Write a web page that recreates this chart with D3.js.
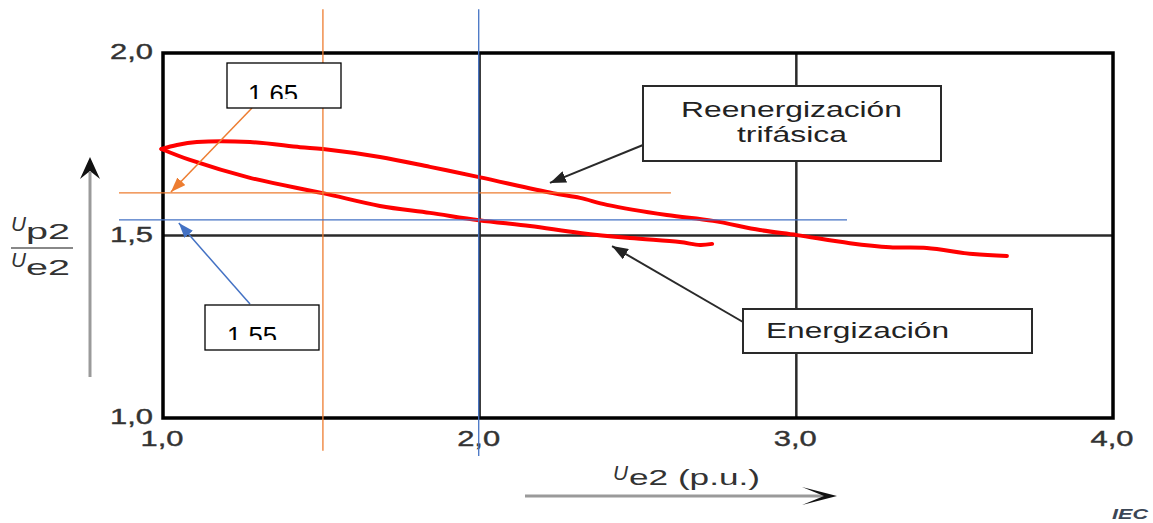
<!DOCTYPE html>
<html>
<head>
<meta charset="utf-8">
<script src="https://cdn.jsdelivr.net/npm/d3@7"></script>
<style>
  body { margin: 0; background: #fff; }
  text { font-family: "Liberation Sans", Arial, sans-serif; }
</style>
</head>
<body>
<div id="chart"></div>
<script>
/* Values */
let xTickValues = [1, 2, 3, 4];
let xTickLabels = ["1,0", "2,0", "3,0", "4,0"];
let yTickValues = [1, 1.5, 2];
let yTickLabels = ["1,0", "1,5", "2,0"];
let gridX = [2, 3];
let gridY = [1.5];

// Reenergización trifásica (upper curve)
let reenergUe = [0.995, 1.044, 1.107, 1.275, 1.433, 1.505, 1.685, 1.843, 1.998, 2.231, 2.317,
                 2.402, 2.591, 2.737, 2.885, 3.002, 3.169, 3.296, 3.412, 3.558, 3.665];
let reenergUp = [1.737, 1.748, 1.756, 1.756, 1.742, 1.737, 1.715, 1.688, 1.660, 1.616, 1.603,
                 1.584, 1.556, 1.540, 1.515, 1.501, 1.479, 1.468, 1.466, 1.449, 1.444];

// Energización (lower curve)
let energUe = [0.995, 1.085, 1.275, 1.505, 1.685, 1.843, 1.998, 2.159, 2.317, 2.475, 2.632, 2.696, 2.734];
let energUp = [1.737, 1.707, 1.658, 1.616, 1.581, 1.562, 1.542, 1.526, 1.507, 1.493, 1.482, 1.474, 1.477];

// hand-drawn reading lines (value, extent)
let orangeV = 1.505, orangeVExtent = [0.91, 2.12];
let orangeH = 1.617, orangeHExtent = [0.861, 2.604];
let blueV = 1.997, blueVExtent = [0.896, 2.12];
let blueH = 1.543, blueHExtent = [0.861, 3.160];

// where the callout arrows point to
let orangeTip = [1.025, 1.619];
let blueTip = [1.05, 1.534];
let reenergTip = [2.222, 1.644];
let energTip = [2.418, 1.471];

/* Layout */
let width = 1153;
let height = 523;
let plot = {left: 163, right: 1113, top: 53, bottom: 418};

let svg = d3.select("#chart")
            .append("svg")
              .attr("width", width)
              .attr("height", height);

svg.append("rect")
     .attr("width", width)
     .attr("height", height)
     .attr("fill", "#fff");

let x = d3.scaleLinear()
          .domain([1, 4])
          .range([plot.left, plot.right]);

let y = d3.scaleLinear()
          .domain([1, 2])
          .range([plot.bottom, plot.top]);

// arrow heads
let defs = svg.append("defs");
function addMarker(id, color, len, wid) {
  defs.append("marker")
        .attr("id", id)
        .attr("viewBox", `0 0 ${len} ${wid}`)
        .attr("refX", len)
        .attr("refY", wid / 2)
        .attr("markerUnits", "userSpaceOnUse")
        .attr("markerWidth", len)
        .attr("markerHeight", wid)
        .attr("orient", "auto")
      .append("path")
        .attr("d", `M0,0L${len},${wid / 2}L0,${wid}Z`)
        .attr("fill", color);
}
addMarker("arrow-orange", "#ED7D31", 15, 11);
addMarker("arrow-blue", "#4472C4", 15, 11);
addMarker("arrow-dark", "#222", 16, 12);

/* Grid lines and frame */
let grid = svg.append("g");

grid.selectAll(".gx")
    .data(gridX)
    .enter()
    .append("line")
      .attr("x1", d => x(d))
      .attr("x2", d => x(d))
      .attr("y1", y(1))
      .attr("y2", y(2))
      .attr("stroke", "#2a2a2a")
      .attr("stroke-width", 2.5);

grid.selectAll(".gy")
    .data(gridY)
    .enter()
    .append("line")
      .attr("x1", x(1))
      .attr("x2", x(4))
      .attr("y1", d => y(d))
      .attr("y2", d => y(d))
      .attr("stroke", "#2a2a2a")
      .attr("stroke-width", 2.5);

svg.append("rect")
     .attr("x", x(1))
     .attr("y", y(2))
     .attr("width", x(4) - x(1))
     .attr("height", y(1) - y(2))
     .attr("fill", "none")
     .attr("stroke", "#000")
     .attr("stroke-width", 3.5);

/* Tick labels */
svg.append("g")
   .selectAll("text")
   .data(xTickValues)
   .enter()
   .append("text")
     .attr("x", d => x(d) - 1)
     .attr("y", 446)
     .attr("text-anchor", "middle")
     .attr("font-size", 22)
     .attr("fill", "#333")
     .attr("stroke", "#333")
     .attr("stroke-width", 0.4)
     .attr("textLength", 43)
     .attr("lengthAdjust", "spacingAndGlyphs")
     .text((d, i) => xTickLabels[i]);

svg.append("g")
   .selectAll("text")
   .data(yTickValues)
   .enter()
   .append("text")
     .attr("x", 153)
     .attr("y", d => y(d) + 6)
     .attr("text-anchor", "end")
     .attr("font-size", 22)
     .attr("fill", "#333")
     .attr("stroke", "#333")
     .attr("stroke-width", 0.4)
     .attr("textLength", 43)
     .attr("lengthAdjust", "spacingAndGlyphs")
     .text((d, i) => yTickLabels[i]);

/* Curves */
let line = d3.line()
             .x(d => x(d[0]))
             .y(d => y(d[1]))
             .curve(d3.curveCatmullRom);

let curves = [d3.zip(reenergUe, reenergUp), d3.zip(energUe, energUp)];

svg.append("g")
   .selectAll("path")
   .data(curves)
   .enter()
   .append("path")
     .attr("d", line)
     .attr("fill", "none")
     .attr("stroke", "#ff0000")
     .attr("stroke-width", 4)
     .attr("stroke-linecap", "round")
     .attr("stroke-linejoin", "round");

/* Reading lines */
let reading = svg.append("g").attr("stroke-width", 1.3);

reading.append("line")
  .attr("x1", x(orangeV)).attr("x2", x(orangeV))
  .attr("y1", y(orangeVExtent[1])).attr("y2", y(orangeVExtent[0]))
  .attr("stroke", "#ED7D31");
reading.append("line")
  .attr("x1", x(orangeHExtent[0])).attr("x2", x(orangeHExtent[1]))
  .attr("y1", y(orangeH)).attr("y2", y(orangeH))
  .attr("stroke", "#ED7D31");
reading.append("line")
  .attr("x1", x(blueV)).attr("x2", x(blueV))
  .attr("y1", y(blueVExtent[1])).attr("y2", y(blueVExtent[0]))
  .attr("stroke", "#4472C4");
reading.append("line")
  .attr("x1", x(blueHExtent[0])).attr("x2", x(blueHExtent[1]))
  .attr("y1", y(blueH)).attr("y2", y(blueH))
  .attr("stroke", "#4472C4");

/* Value boxes (text cut at the bottom like in the figure) */
function valueBox(id, bx, by, bw, bh, label, tx, clipH, tip, color, from) {
  defs.append("clipPath")
        .attr("id", id)
      .append("rect")
        .attr("x", bx)
        .attr("y", by)
        .attr("width", bw)
        .attr("height", clipH);

  svg.append("line")
       .attr("x1", from[0])
       .attr("y1", from[1])
       .attr("x2", x(tip[0]))
       .attr("y2", y(tip[1]))
       .attr("stroke", color)
       .attr("stroke-width", 1.5)
       .attr("marker-end", `url(#arrow-${id.split("-")[1]})`);

  svg.append("rect")
       .attr("x", bx)
       .attr("y", by)
       .attr("width", bw)
       .attr("height", bh)
       .attr("fill", "#fff")
       .attr("stroke", "#000")
       .attr("stroke-width", 1.3);

  svg.append("text")
       .attr("clip-path", `url(#${id})`)
       .attr("x", tx)
       .attr("y", by + bh - 5)
       .attr("font-family", "Carlito, 'Open Sans', sans-serif")
       .attr("font-size", 25)
       .attr("fill", "#000")
       .attr("textLength", 50)
       .attr("lengthAdjust", "spacingAndGlyphs")
       .text(label);
}
valueBox("clip-orange", 227, 63, 114, 45, "1.65", 248, 36, orangeTip, "#ED7D31", [252, 108]);
valueBox("clip-blue", 205, 305, 114, 45, "1.55", 227, 35, blueTip, "#4472C4", [250, 304]);

/* Callouts */
function callout(bx, by, bw, bh, lines, tip, from) {
  svg.append("line")
       .attr("x1", from[0])
       .attr("y1", from[1])
       .attr("x2", x(tip[0]))
       .attr("y2", y(tip[1]))
       .attr("stroke", "#2a2a2a")
       .attr("stroke-width", 2)
       .attr("marker-end", "url(#arrow-dark)");

  svg.append("rect")
       .attr("x", bx)
       .attr("y", by)
       .attr("width", bw)
       .attr("height", bh)
       .attr("fill", "#fff")
       .attr("stroke", "#2a2a2a")
       .attr("stroke-width", 2);

  lines.forEach(l => {
    svg.append("text")
         .attr("x", l.x)
         .attr("y", l.y)
         .attr("text-anchor", l.anchor)
         .attr("font-size", 22)
         .attr("fill", "#222")
         .attr("textLength", l.w)
         .attr("lengthAdjust", "spacingAndGlyphs")
         .text(l.t);
  });
}
callout(643, 86, 298, 75,
        [{t: "Reenergización", x: 791.5, y: 117, w: 221, anchor: "middle"},
         {t: "trifásica", x: 792, y: 142, w: 110, anchor: "middle"}],
        reenergTip, [643, 145]);
callout(743, 309, 289, 44,
        [{t: "Energización", x: 766, y: 338, w: 183, anchor: "start"}],
        energTip, [743, 322]);

/* Axis titles with their arrows */
let titles = svg.append("g").attr("fill", "#333");

// y title: Up2 / Ue2
titles.append("text").attr("x", 11).attr("y", 231)
      .attr("font-size", 21).attr("font-style", "italic")
      .attr("textLength", 15).attr("lengthAdjust", "spacingAndGlyphs").text("U");
titles.append("text").attr("x", 26).attr("y", 239)
      .attr("font-size", 22).attr("textLength", 44)
      .attr("lengthAdjust", "spacingAndGlyphs").text("p2");
titles.append("line").attr("x1", 11).attr("x2", 73).attr("y1", 248).attr("y2", 248)
      .attr("stroke", "#888").attr("stroke-width", 2);
titles.append("text").attr("x", 11).attr("y", 267)
      .attr("font-size", 21).attr("font-style", "italic")
      .attr("textLength", 15).attr("lengthAdjust", "spacingAndGlyphs").text("U");
titles.append("text").attr("x", 26).attr("y", 275)
      .attr("font-size", 22).attr("textLength", 44)
      .attr("lengthAdjust", "spacingAndGlyphs").text("e2");

// x title: Ue2 (p.u.)
titles.append("text").attr("x", 613).attr("y", 480)
      .attr("font-size", 21).attr("font-style", "italic")
      .attr("textLength", 15).attr("lengthAdjust", "spacingAndGlyphs").text("U");
titles.append("text").attr("x", 629).attr("y", 485)
      .attr("font-size", 22).attr("textLength", 131)
      .attr("lengthAdjust", "spacingAndGlyphs").text("e2 (p.u.)");

// arrows
svg.append("line").attr("x1", 90).attr("x2", 90).attr("y1", 172).attr("y2", 377)
   .attr("stroke", "#9a9a9a").attr("stroke-width", 3);
svg.append("path").attr("d", "M90,157L100,179L90,171L80,179Z").attr("fill", "#111");

svg.append("line").attr("x1", 525).attr("x2", 826).attr("y1", 496).attr("y2", 496)
   .attr("stroke", "#9a9a9a").attr("stroke-width", 3);
svg.append("path").attr("d", "M837,496L802,505L824,496L802,487Z").attr("fill", "#111");

// IEC mark
svg.append("text")
     .attr("x", 1112)
     .attr("y", 519)
     .attr("font-size", 14)
     .attr("font-weight", "bold")
     .attr("font-style", "italic")
     .attr("fill", "#3b4656")
     .attr("textLength", 36)
     .attr("lengthAdjust", "spacingAndGlyphs")
     .text("IEC");
</script>
</body>
</html>
